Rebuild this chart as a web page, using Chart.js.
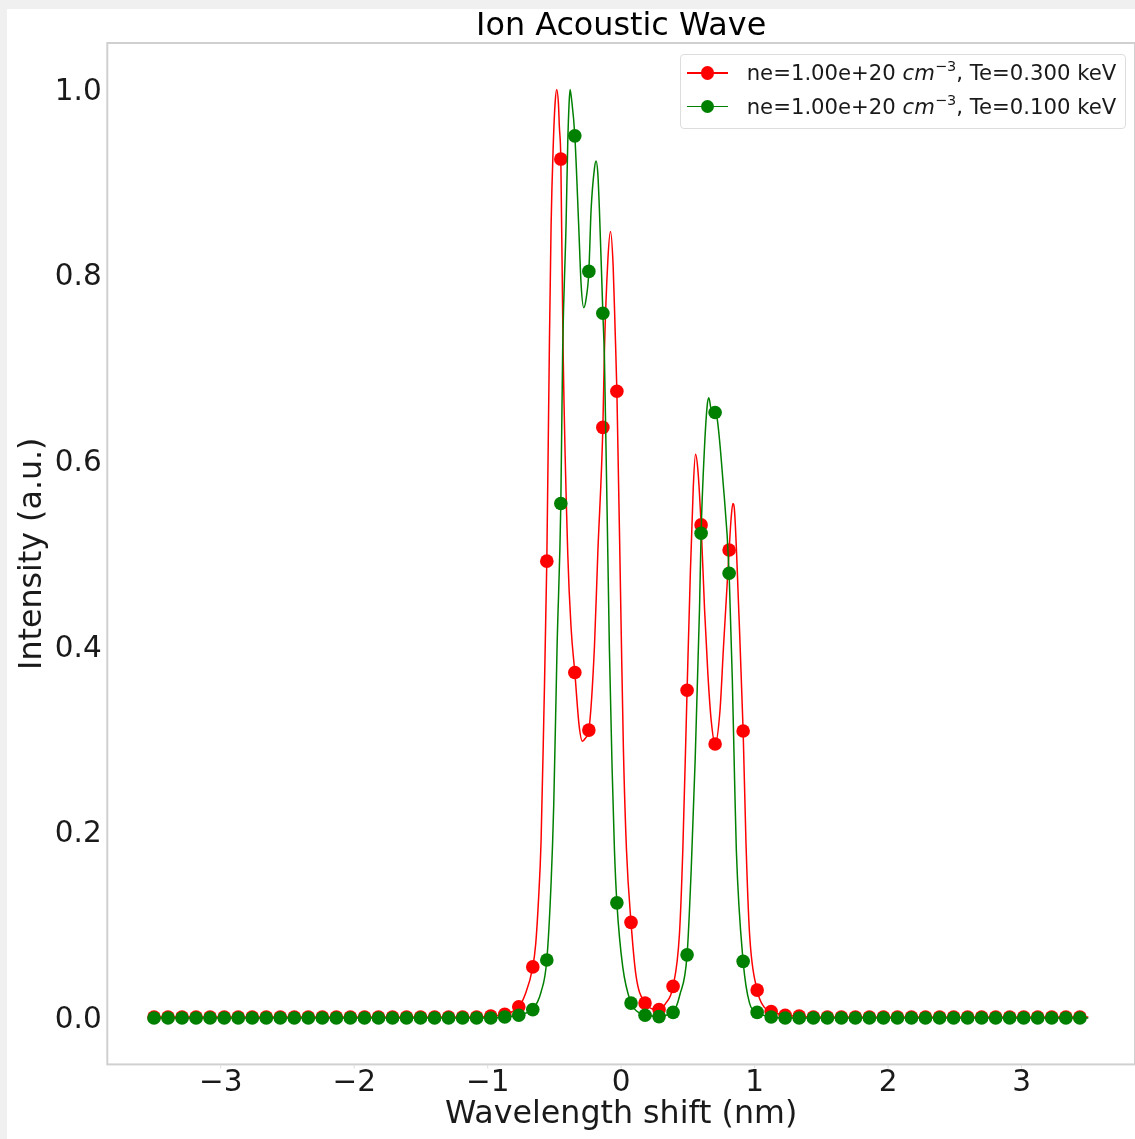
<!DOCTYPE html>
<html><head><meta charset="utf-8">
<script src="https://cdn.jsdelivr.net/npm/chart.js@4.4.1/dist/chart.umd.min.js"></script>
<style>
html,body{margin:0;padding:0;background:#f0f0f0;}
#wrap{position:absolute;left:7px;top:9px;width:1128px;height:1130px;background:#fff;overflow:hidden;}
#c{position:absolute;left:0;top:0;}
#legend{position:absolute;left:673px;top:45px;width:444px;height:73px;border:1px solid #dddddd;border-radius:4px;background:rgba(255,255,255,0.8);font-family:"DejaVu Sans";font-size:21.2px;color:#1a1a1a;}
.row{position:absolute;left:0;width:100%;height:24px;}
.ln{position:absolute;left:5.7px;width:41.6px;height:1.6px;top:11.2px;}
.mk{position:absolute;left:19.5px;width:13.6px;height:13.6px;border-radius:50%;top:5.2px;}
.tx{position:absolute;left:65.7px;top:0;line-height:24px;white-space:nowrap;}
.sup{font-size:14.5px;position:relative;top:-9px;font-style:normal;}
</style></head>
<body>
<div id="wrap"><canvas id="c" width="1128" height="1130" style="width:1128px;height:1130px"></canvas><div id="legend"></div></div>
<script>
// ---- data ----
const markerX = [-3.500,-3.395,-3.290,-3.185,-3.080,-2.974,-2.869,-2.764,-2.659,-2.554,-2.449,-2.344,-2.239,-2.134,-2.029,-1.923,-1.818,-1.713,-1.608,-1.503,-1.398,-1.293,-1.188,-1.083,-0.977,-0.872,-0.767,-0.662,-0.557,-0.452,-0.347,-0.242,-0.137,-0.032,0.074,0.179,0.284,0.389,0.494,0.599,0.704,0.809,0.914,1.019,1.124,1.229,1.334,1.440,1.545,1.650,1.755,1.860,1.965,2.070,2.175,2.280,2.386,2.491,2.596,2.701,2.806,2.911,3.016,3.121,3.226,3.332,3.437];

const redMarkers = [0.001,0.001,0.001,0.001,0.001,0.001,0.001,0.001,0.001,0.001,0.001,0.001,0.001,0.001,0.001,0.001,0.001,0.001,0.001,0.001,0.001,0.001,0.001,0.001,0.002,0.004,0.012,0.055,0.492,0.925,0.372,0.310,0.636,0.675,0.103,0.016,0.009,0.034,0.353,0.531,0.295,0.504,0.309,0.030,0.007,0.003,0.002,0.001,0.001,0.001,0.001,0.001,0.001,0.001,0.001,0.001,0.001,0.001,0.001,0.001,0.001,0.001,0.001,0.001,0.001,0.001,0.001];

const greenMarkers = [0,0,0,0,0,0,0,0,0,0,0,0,0,0,0,0,0,0,0,0,0,0,0,0,0,0.001,0.003,0.009,0.0625,0.554,0.950,0.804,0.759,0.124,0.016,0.003,0.0015,0.006,0.068,0.522,0.652,0.479,0.061,0.006,0.001,0,0,0,0,0,0,0,0,0,0,0,0,0,0,0,0,0,0,0,0,0,0];

// extra points of the continuous curves (between markers)
const redCurveX = [-0.72,-0.64,-0.62,-0.60,-0.58,-0.538,-0.525,-0.508,-0.495,-0.483,-0.470,-0.463,-0.435,-0.40,-0.375,-0.315,-0.29,-0.265,-0.20,-0.175,-0.125,-0.10,-0.08,-0.06,-0.045,0.0,0.017,0.04,0.112,0.23,0.33,0.437,0.462,0.517,0.54,0.557,0.575,0.625,0.65,0.675,0.74,0.767,0.825,0.837,0.85,0.882,0.935,0.962,1.07,3.5];
const redCurveY = [0.025,0.08,0.125,0.19,0.32,0.72,0.853,0.943,0.985,1.0,0.985,0.96,0.72,0.50,0.42,0.315,0.298,0.302,0.40,0.50,0.72,0.815,0.847,0.81,0.74,0.42,0.289,0.181,0.045,0.010,0.015,0.091,0.181,0.472,0.57,0.607,0.59,0.44,0.37,0.32,0.33,0.40,0.54,0.554,0.545,0.436,0.19,0.091,0.012,0.001];

const greenCurveX = [-0.72,-0.60,-0.525,-0.505,-0.48,-0.438,-0.413,-0.40,-0.39,-0.383,-0.372,-0.318,-0.30,-0.28,-0.262,-0.225,-0.20,-0.188,-0.175,-0.163,-0.125,-0.088,-0.068,-0.05,0.012,0.12,0.23,0.33,0.44,0.525,0.555,0.587,0.625,0.645,0.657,0.675,0.72,0.762,0.833,0.85,0.863,0.962,3.5];
const greenCurveY = [0.005,0.028,0.145,0.23,0.40,0.72,0.853,0.943,0.985,1.0,0.99,0.853,0.79,0.765,0.775,0.871,0.915,0.923,0.91,0.871,0.709,0.397,0.27,0.18,0.055,0.007,0.002,0.003,0.025,0.16,0.28,0.44,0.616,0.66,0.668,0.655,0.645,0.58,0.364,0.256,0.181,0.016,0];

const xTicks = [-3,-2,-1,0,1,2,3];
const yTicks = [0,0.2,0.4,0.6,0.8,1.0];
const seriesNe = ['1.00e+20','1.00e+20'];
const seriesTe = ['0.300','0.100'];
const seriesColors = ['#ff0000','#008000'];
const chartTitle = 'Ion Acoustic Wave';
const xTitle = 'Wavelength shift (nm)';
const yTitle = 'Intensity (a.u.)';

// ---- build ----
function merge(mx, my, cx, cy){
  const pts = mx.map((x,i)=>({x:x,y:my[i]})).concat(cx.map((x,i)=>({x:x,y:cy[i]})));
  pts.sort((a,b)=>a.x-b.x);
  return pts;
}
const plainLabel = i => 'ne=' + seriesNe[i] + ' cm\u207B\u00B3, Te=' + seriesTe[i] + ' keV';

const framePlugin = {
  id:'frame',
  afterDatasetsDraw(chart){
    const {ctx, chartArea:a, scales} = chart;
    ctx.save();
    ctx.strokeStyle = '#d0d0d0';
    ctx.lineWidth = 2;
    ctx.strokeRect(a.left, a.top, a.right-a.left, a.bottom-a.top);
    ctx.lineWidth = 1;
    ctx.strokeStyle = '#dddddd';
    xTicks.forEach(v=>{
      const px = scales.x.getPixelForValue(v);
      ctx.beginPath(); ctx.moveTo(px, a.bottom+1); ctx.lineTo(px, a.bottom+4); ctx.stroke();
    });
    ctx.restore();
  }
};

const font = 'DejaVu Sans';
const datasets = [];
[[redMarkers, redCurveX, redCurveY],[greenMarkers, greenCurveX, greenCurveY]].forEach((s,i)=>{
  datasets.push({
    label: plainLabel(i),
    data: merge(markerX, s[0], s[1], s[2]),
    borderColor: seriesColors[i], borderWidth: 1.5, pointRadius: 0,
    cubicInterpolationMode: 'monotone', fill: false, order: 4 - 2*i
  });
  datasets.push({
    label: plainLabel(i) + ' (markers)',
    data: markerX.map((x,k)=>({x:x, y:s[0][k]})),
    showLine: false, pointRadius: 6.8, pointBackgroundColor: seriesColors[i],
    pointBorderWidth: 0, borderColor: seriesColors[i], order: 3 - 2*i
  });
});

new Chart(document.getElementById('c'), {
  type: 'line',
  data: { datasets: datasets },
  options: {
    responsive: false, animation: false, devicePixelRatio: 1,
    layout: { padding: 0, autoPadding: false },
    plugins: {
      legend: { display: false },
      tooltip: { enabled: false },
      title: { display: true, text: chartTitle, fullSize: false, color: '#000',
        font: { family: font, size: 31.8, weight: 'normal', lineHeight: 1 },
        padding: { top: 2.2, bottom: 0 } }
    },
    scales: {
      x: {
        type: 'linear', min: -3.85, max: 3.85,
        afterBuildTicks: s => { s.ticks = xTicks.map(v => ({ value: v })); },
        afterFit: s => { s.height = 74.6; },
        grid: { display: false, drawTicks: false }, border: { display: false },
        ticks: { padding: 1.5, color: '#1a1a1a', maxRotation: 0, autoSkip: false,
          font: { family: font, size: 29.5 },
          callback: v => v < 0 ? '\u2212' + Math.abs(v) : String(v) },
        title: { display: true, text: xTitle, color: '#1a1a1a',
          font: { family: font, size: 31.7 }, padding: { top: 0, bottom: 5.2 } }
      },
      y: {
        min: -0.05, max: 1.05,
        afterBuildTicks: s => { s.ticks = yTicks.map(v => ({ value: v })); },
        afterFit: s => { s.width = 100.3; },
        grid: { display: false, drawTicks: false }, border: { display: false },
        ticks: { padding: 5.6, color: '#1a1a1a', autoSkip: false, labelOffset: 2.5,
          font: { family: font, size: 29.5 },
          callback: v => Number(v).toFixed(1) },
        title: { display: true, text: yTitle, color: '#1a1a1a',
          font: { family: font, size: 31.7 }, padding: { top: 6.6, bottom: 0 } }
      }
    }
  },
  plugins: [framePlugin]
});

// legend (HTML, rich text for italic cm and superscript)
const leg = document.getElementById('legend');
const rowTops = [6.3, 39.7];
seriesNe.forEach((ne,i)=>{
  const row = document.createElement('div');
  row.className = 'row'; row.style.top = rowTops[i] + 'px';
  row.innerHTML = '<div class="ln" style="background:'+seriesColors[i]+'"></div>' +
    '<div class="mk" style="background:'+seriesColors[i]+'"></div>' +
    '<div class="tx">ne=' + ne + ' <i>cm</i><span class="sup">\u22123</span>, Te=' + seriesTe[i] + ' keV</div>';
  leg.appendChild(row);
});
</script>
</body></html>
